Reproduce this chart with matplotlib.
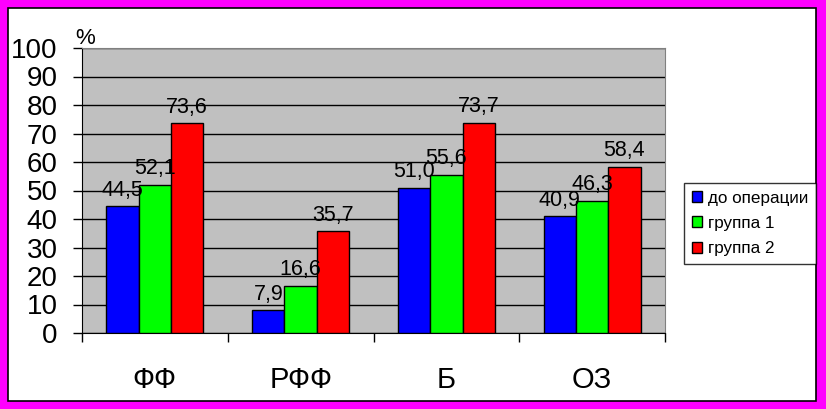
import numpy as np
import matplotlib.pyplot as plt
from matplotlib.patches import Rectangle

plt.rcParams['font.family'] = ['Liberation Sans', 'DejaVu Sans']

# data
categories = ['ФФ', 'РФФ', 'Б', 'ОЗ']
series_names = ['до операции', 'группа 1', 'группа 2']
before_op = [44.5, 7.9, 51.0, 40.9]
group_1 = [52.1, 16.6, 55.6, 46.3]
group_2 = [73.6, 35.7, 73.7, 58.4]
colors = ['#0000ff', '#00ff00', '#ff0000']

fig = plt.figure(figsize=(8.26, 4.09), dpi=100, facecolor='#ff00ff')
# white inner frame with thin black edge
fig.patches.append(Rectangle((8/826, 8/409), 808/826, 393/409,
                             transform=fig.transFigure, facecolor='white',
                             edgecolor='black', lw=1.2, zorder=-1))

ax = fig.add_axes([82/826, 1-333/409, (665-82)/826, (333-48)/409])
ax.set_facecolor('#c0c0c0')

x = np.arange(len(categories))
w = 0.222
for k, (vals, name) in enumerate(zip([before_op, group_1, group_2], series_names)):
    pos = x + (k - 1) * w
    bars = ax.bar(pos, vals, w, color=colors[k], edgecolor='black', lw=1,
                  label=name, zorder=3)
    for p, v in zip(pos, vals):
        ax.annotate(f'{v:.1f}'.replace('.', ','), (p, v), xytext=(0, 4),
                    textcoords='offset points', ha='center', va='bottom',
                    fontsize=15.5, zorder=4)

ax.set_xlim(-0.5, len(categories) - 0.5)
ax.set_ylim(0, 100)
ax.set_yticks(range(0, 101, 10))
ax.yaxis.grid(True, color='black', lw=1, zorder=1)
ax.set_axisbelow(True)
ax.tick_params(axis='y', direction='out', length=6.5, width=1, pad=11,
               labelsize=20)

ax.set_xticks(np.arange(-0.5, len(categories), 1))
ax.set_xticklabels([])
ax.set_xticks(x, minor=True)
ax.set_xticklabels(categories, minor=True)
ax.tick_params(axis='x', which='major', direction='out', length=6.5, width=1)
ax.tick_params(axis='x', which='minor', length=0, pad=24, labelsize=21)

for s in ['top', 'right']:
    ax.spines[s].set_color('#808080')
ax.spines['left'].set_color('black')
ax.spines['bottom'].set_color('black')

ax.text(75/826, 1-44/409, '%', transform=fig.transFigure, fontsize=16,
        ha='left', va='baseline')

leg = ax.legend(loc='upper left', bbox_to_anchor=(684/826, 1-183/409),
                bbox_transform=fig.transFigure, fontsize=12.3, frameon=True,
                fancybox=False, edgecolor='black', handlelength=0.6,
                handleheight=0.6, handletextpad=0.35, labelspacing=0.6,
                borderpad=0.45, borderaxespad=0)
leg.get_frame().set_linewidth(1)

plt.savefig('out.png', dpi=100, facecolor=fig.get_facecolor())
